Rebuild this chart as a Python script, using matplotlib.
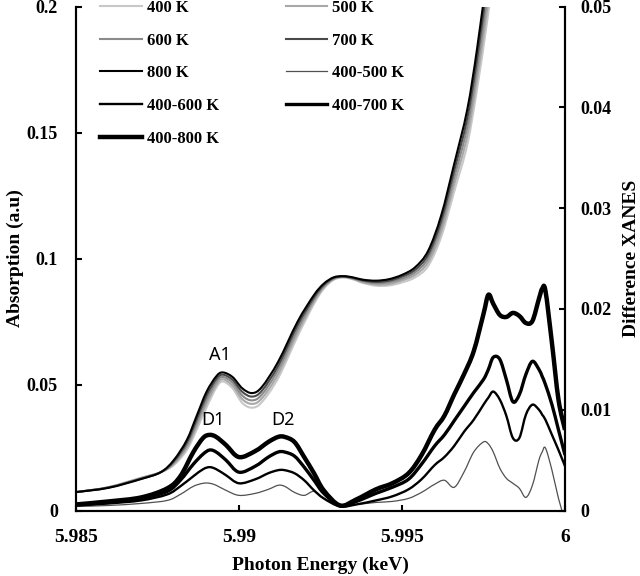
import numpy as np
import matplotlib
matplotlib.use("Agg")
import matplotlib.pyplot as plt
from matplotlib.path import Path
from matplotlib.patches import PathPatch
from matplotlib.lines import Line2D

# Data

# absorption spectra (left axis)
abs_e = [5.9850, 5.9860, 5.9870, 5.9876, 5.9880, 5.9884, 5.9887, 5.9890, 5.9893, 5.9895,
         5.9898, 5.9901, 5.9904, 5.9907, 5.9912, 5.9918, 5.9923, 5.9926, 5.9929, 5.9932,
         5.9935, 5.9938, 5.9942, 5.9946, 5.9950, 5.9954, 5.9958, 5.9962, 5.9966, 5.9970,
         5.9973, 5.9976, 5.9978]

abs_400 = [0.0073, 0.0093, 0.0130, 0.0152, 0.0180, 0.0240, 0.0320, 0.0408, 0.0487, 0.0512,
           0.0485, 0.0427, 0.0408, 0.0430, 0.0525, 0.0692, 0.0820, 0.0880, 0.0915, 0.0925,
           0.0917, 0.0903, 0.0892, 0.0893, 0.0905, 0.0925, 0.0970, 0.1085, 0.1265, 0.1450,
           0.1670, 0.1930, 0.2120]
abs_500 = [0.0073, 0.0092, 0.0129, 0.0152, 0.0185, 0.0250, 0.0334, 0.0424, 0.0498, 0.0521,
           0.0496, 0.0442, 0.0423, 0.0445, 0.0541, 0.0707, 0.0829, 0.0885, 0.0918, 0.0926,
           0.0919, 0.0906, 0.0897, 0.0899, 0.0913, 0.0935, 0.0985, 0.1106, 0.1293, 0.1485,
           0.1710, 0.1978, 0.2170]
abs_600 = [0.0073, 0.0092, 0.0128, 0.0152, 0.0190, 0.0260, 0.0348, 0.0439, 0.0510, 0.0530,
           0.0508, 0.0456, 0.0437, 0.0460, 0.0558, 0.0721, 0.0838, 0.0890, 0.0920, 0.0928,
           0.0921, 0.0910, 0.0902, 0.0906, 0.0920, 0.0945, 0.1000, 0.1128, 0.1320, 0.1520,
           0.1750, 0.2025, 0.2220]
abs_700 = [0.0073, 0.0091, 0.0126, 0.0152, 0.0195, 0.0270, 0.0361, 0.0455, 0.0521, 0.0539,
           0.0519, 0.0471, 0.0452, 0.0475, 0.0574, 0.0736, 0.0846, 0.0895, 0.0923, 0.0929,
           0.0923, 0.0913, 0.0907, 0.0912, 0.0928, 0.0955, 0.1015, 0.1149, 0.1348, 0.1555,
           0.1790, 0.2073, 0.2270]
abs_800 = [0.0073, 0.0090, 0.0125, 0.0152, 0.0200, 0.0280, 0.0375, 0.0470, 0.0532, 0.0548,
           0.0530, 0.0485, 0.0466, 0.0490, 0.0590, 0.0750, 0.0855, 0.0900, 0.0925, 0.0930,
           0.0925, 0.0916, 0.0912, 0.0918, 0.0935, 0.0965, 0.1030, 0.1170, 0.1375, 0.1590,
           0.1830, 0.2120, 0.2320]

# difference spectra (right axis)
dif_e = [5.9850, 5.9860, 5.9870, 5.9878, 5.9882, 5.9886, 5.9889, 5.9891, 5.9893, 5.9896,
         5.9900, 5.9905, 5.9909, 5.9912, 5.9914, 5.9917, 5.9920, 5.9923, 5.9926, 5.9931,
         5.9936, 5.9942, 5.9947, 5.9952, 5.9956, 5.9960, 5.9963, 5.9966, 5.9969, 5.9972,
         5.9975, 5.99765, 5.9978, 5.9980, 5.9982, 5.9984, 5.9986, 5.9988, 5.9990, 5.9992,
         5.9993, 5.9994, 5.9996, 5.9998, 6.0000]

dif_500 = [0.0004, 0.0005, 0.0007, 0.0010, 0.0016, 0.0024, 0.0027, 0.0027, 0.0025, 0.0020,
           0.0015, 0.0017, 0.0021, 0.0025, 0.0024, 0.0018, 0.0015, 0.0019, 0.0012, 0.0005,
           0.0006, 0.0008, 0.0009, 0.0012, 0.0018, 0.0026, 0.0030, 0.0023, 0.0038, 0.0058,
           0.0068, 0.0066, 0.0058, 0.0042, 0.0032, 0.0027, 0.0022, 0.0013, 0.0025, 0.0050,
           0.0058, 0.0062, 0.0040, 0.0012, -0.0010]
dif_600 = [0.0005, 0.0007, 0.0010, 0.0016, 0.0024, 0.0034, 0.0041, 0.0043, 0.0041, 0.0035,
           0.0027, 0.0031, 0.0037, 0.0040, 0.0040, 0.0037, 0.0030, 0.0020, 0.0012, 0.0004,
           0.0006, 0.0010, 0.0014, 0.0021, 0.0031, 0.0045, 0.0053, 0.0064, 0.0078, 0.0090,
           0.0105, 0.0112, 0.0118, 0.0110, 0.0094, 0.0072, 0.0072, 0.0095, 0.0105, 0.0100,
           0.0095, 0.0090, 0.0075, 0.0060, 0.0044]
dif_700 = [0.0006, 0.0008, 0.0012, 0.0019, 0.0030, 0.0046, 0.0056, 0.0060, 0.0058, 0.0050,
           0.0038, 0.0044, 0.0053, 0.0058, 0.0058, 0.0054, 0.0043, 0.0030, 0.0017, 0.0005,
           0.0009, 0.0017, 0.0023, 0.0031, 0.0046, 0.0064, 0.0075, 0.0089, 0.0103, 0.0117,
           0.0130, 0.0140, 0.0152, 0.0150, 0.0130, 0.0108, 0.0115, 0.0135, 0.0148, 0.0140,
           0.0133, 0.0125, 0.0105, 0.0080, 0.0055]
dif_800 = [0.0006, 0.0009, 0.0013, 0.0022, 0.0034, 0.0058, 0.0072, 0.0075, 0.0073, 0.0065,
           0.0053, 0.0059, 0.0068, 0.0073, 0.0073, 0.0068, 0.0053, 0.0037, 0.0020, 0.0005,
           0.0011, 0.0021, 0.0027, 0.0037, 0.0055, 0.0080, 0.0094, 0.0115, 0.0135, 0.0158,
           0.0195, 0.0214, 0.0205, 0.0194, 0.0192, 0.0196, 0.0193, 0.0186, 0.0188, 0.0210,
           0.0220, 0.0218, 0.0166, 0.0110, 0.0080]

abs_labels = ['400 K', '500 K', '600 K', '700 K', '800 K']
dif_labels = ['400-500 K', '400-600 K', '400-700 K', '400-800 K']

x_ticks = [5.985, 5.99, 5.995, 6.0]
x_ticklabels = ['5.985', '5.99', '5.995', '6']
yl_ticks = [0, 0.05, 0.1, 0.15, 0.2]
yl_ticklabels = ['0', '0.05', '0.1', '0.15', '0.2']
yr_ticks = [0, 0.01, 0.02, 0.03, 0.04, 0.05]
yr_ticklabels = ['0', '0.01', '0.02', '0.03', '0.04', '0.05']


def smooth_line(a, xs, ys, color, lw):
    # excel style smoothed line: catmull-rom segments drawn as cubic bezier
    p = np.column_stack([xs, ys]).astype(float)
    n = len(p)
    verts = [p[0]]
    codes = [Path.MOVETO]
    for i in range(n - 1):
        p0 = p[max(i - 1, 0)]
        p1 = p[i]
        p2 = p[i + 1]
        p3 = p[min(i + 2, n - 1)]
        verts += [p1 + (p2 - p0) / 6.0, p2 - (p3 - p1) / 6.0, p2]
        codes += [Path.CURVE4] * 3
    patch = PathPatch(Path(verts, codes), fill=False, edgecolor=color, lw=lw,
                      joinstyle='round', capstyle='butt')
    a.add_patch(patch)
    return Line2D([], [], color=color, lw=lw)


# Plot
serif = 'Liberation Serif'
fig = plt.figure(figsize=(6.4, 5.76), dpi=100)
ax = fig.add_axes([76/640., 65.5/576., 489/640., 504/576.])
ax2 = ax.twinx()

abs_series = [abs_400, abs_500, abs_600, abs_700, abs_800]
abs_colors = ['#c8c8c8', '#a8a8a8', '#8a8a8a', '#4a4a4a', '#000000']
abs_lines = []
for ys, c in zip(abs_series, abs_colors):
    abs_lines.append(smooth_line(ax, abs_e, ys, c, 1.5))

dif_series = [dif_500, dif_600, dif_700, dif_800]
dif_colors = ['#505050', '#000000', '#000000', '#000000']
dif_widths = [0.9, 1.7, 2.4, 3.2]
dif_lines = []
for ys, c, w in zip(dif_series, dif_colors, dif_widths):
    dif_lines.append(smooth_line(ax2, dif_e, ys, c, w))

ax.set_xlim(5.985, 6.0)
ax.set_ylim(0, 0.2)
ax2.set_ylim(0, 0.05)

ax.set_xticks(x_ticks)
ax.set_xticklabels(x_ticklabels, fontfamily=serif, fontweight='bold', fontsize=14)
ax.set_yticks(yl_ticks)
ax.set_yticklabels(yl_ticklabels, fontfamily=serif, fontweight='bold', fontsize=13)
ax2.set_yticks(yr_ticks)
ax2.set_yticklabels(yr_ticklabels, fontfamily=serif, fontweight='bold', fontsize=13)

for a in (ax, ax2):
    a.spines['top'].set_visible(False)
    for s in ('left', 'right', 'bottom'):
        a.spines[s].set_linewidth(1.5)
    a.tick_params(direction='in', length=4, width=1.5)
ax.tick_params(axis='y', pad=13)
ax2.tick_params(axis='y', pad=11)
ax.tick_params(axis='x', pad=13)

ax.set_xlabel('Photon Energy (keV)', fontfamily=serif, fontweight='bold', fontsize=14, labelpad=8)
ax.set_ylabel('Absorption (a.u)', fontfamily=serif, fontweight='bold', fontsize=14, labelpad=2)
ax2.set_ylabel('Difference XANES', fontfamily=serif, fontweight='bold', fontsize=14, labelpad=8)

ax.text(5.98942, 0.0617, 'A1', ha='center', va='center', fontsize=13, fontfamily='Noto Sans')
ax.text(5.98920, 0.0359, 'D1', ha='center', va='center', fontsize=13, fontfamily='Noto Sans')
ax.text(5.99135, 0.0359, 'D2', ha='center', va='center', fontsize=13, fontfamily='Noto Sans')

# legend: rows 400|500, 600|700, 800|400-500, 400-600|400-700, 400-800
lab_map = dict(zip(abs_lines + dif_lines, abs_labels + dif_labels))
col1 = [abs_lines[0], abs_lines[2], abs_lines[4], dif_lines[1], dif_lines[3]]
col2 = [abs_lines[1], abs_lines[3], dif_lines[0], dif_lines[2]]
handles = col1 + col2
leg = fig.legend(handles, [lab_map[h] for h in handles], ncol=2,
                 loc='upper left', bbox_to_anchor=(100/640., 1.0), frameon=False,
                 prop={'family': serif, 'weight': 'bold', 'size': 12},
                 handlelength=2.5, handletextpad=0.3, columnspacing=4.0,
                 labelspacing=1.0, borderpad=0, borderaxespad=0)

plt.savefig("out.png", dpi=100)
